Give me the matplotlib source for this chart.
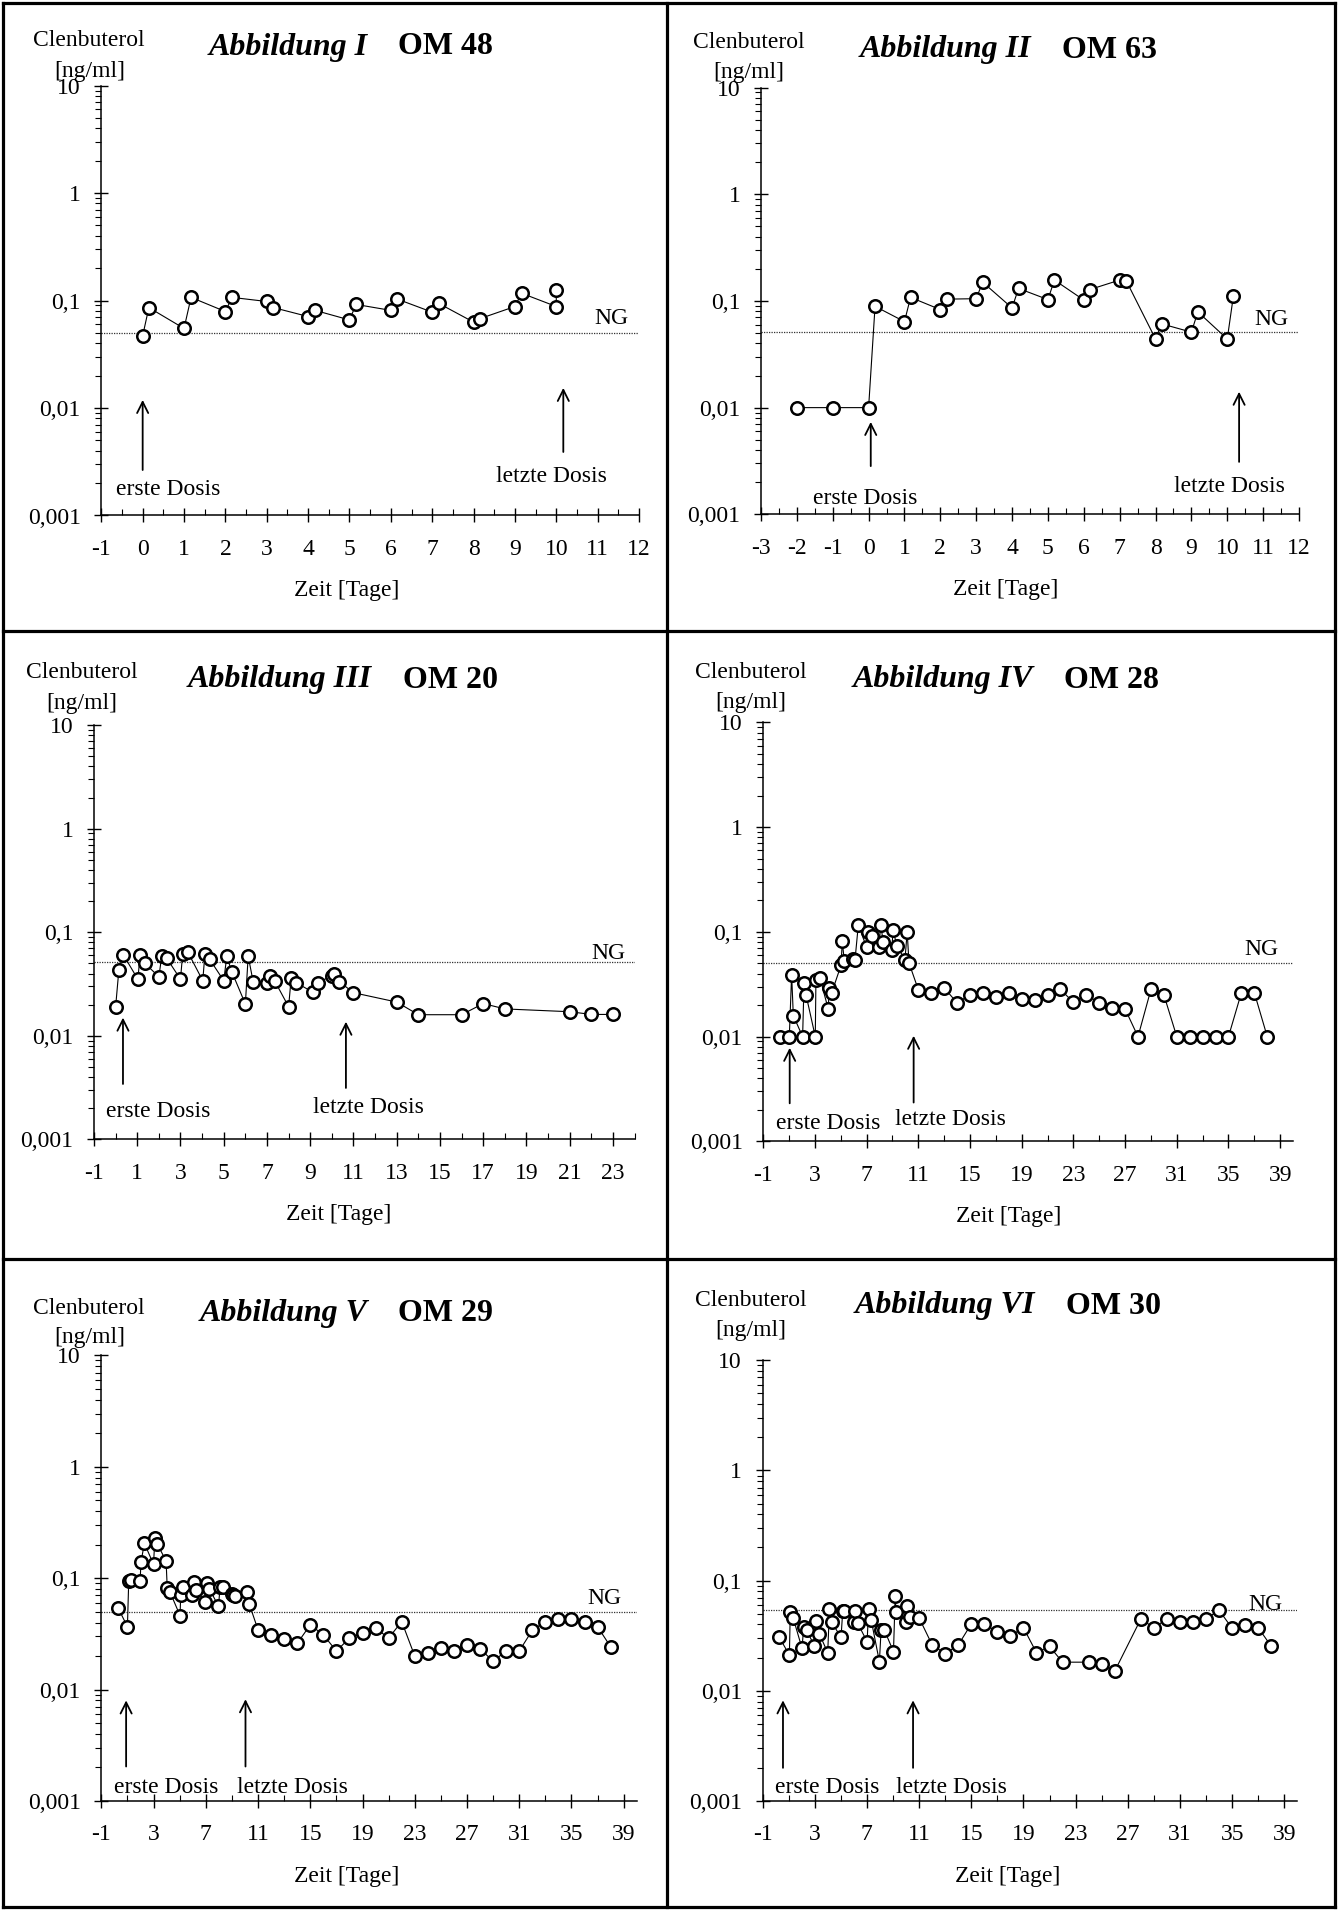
import numpy as np
import matplotlib
matplotlib.use('Agg')
import matplotlib.pyplot as plt
from matplotlib.ticker import FixedLocator, FuncFormatter, LogLocator, NullFormatter
from matplotlib.lines import Line2D
from matplotlib.transforms import blended_transform_factory

plt.rcParams['font.family'] = ['Liberation Serif', 'DejaVu Serif']
plt.rcParams['axes.unicode_minus'] = False

# ---------------- data ----------------
titles = ['Abbildung I', 'Abbildung II', 'Abbildung III', 'Abbildung IV', 'Abbildung V', 'Abbildung VI']
om_labels = ['OM 48', 'OM 63', 'OM 20', 'OM 28', 'OM 29', 'OM 30']
ng_values = [0.05, 0.051, 0.052, 0.051, 0.05, 0.054]
ytick_vals = [0.001, 0.01, 0.1, 1, 10]
ytick_labels = ['0,001', '0,01', '0,1', '1', '10']

x1 = [0, 0.15, 1.0, 1.17, 2.0, 2.16, 3.0, 3.16, 4.0, 4.17, 5.0, 5.16, 6.0, 6.16, 7.0, 7.16,
      8.0, 8.16, 9.0, 9.16, 10.0, 10.0]
y1 = [0.047, 0.086, 0.055, 0.107, 0.079, 0.107, 0.098, 0.086, 0.071, 0.081, 0.066, 0.092,
      0.081, 0.103, 0.078, 0.094, 0.063, 0.068, 0.088, 0.117, 0.088, 0.125]

x2 = [-2, -1, 0, 0.18, 1.0, 1.17, 2.0, 2.18, 3.0, 3.18, 4.0, 4.18, 5.0, 5.18, 6.0, 6.17,
      7.0, 7.19, 8.0, 8.17, 9.0, 9.18, 10.0, 10.17]
y2 = [0.01, 0.01, 0.01, 0.089, 0.064, 0.108, 0.083, 0.104, 0.105, 0.150, 0.086, 0.131,
      0.103, 0.157, 0.102, 0.128, 0.157, 0.153, 0.044, 0.061, 0.051, 0.079, 0.044, 0.111]

x3 = [0, 0.15, 0.36, 1.03, 1.13, 1.36, 2.0, 2.13, 2.36, 3.0, 3.1, 3.33, 4.03, 4.13, 4.35,
      5.0, 5.14, 5.37, 6.0, 6.13, 6.36, 7.0, 7.14, 7.35, 8.0, 8.12, 8.34, 9.12, 9.34,
      10.0, 10.12, 10.35, 11.0, 13, 14, 16, 17, 18, 21, 22, 23]
y3 = [0.0191, 0.0433, 0.0604, 0.0352, 0.0604, 0.050, 0.0372, 0.0584, 0.0563, 0.0352, 0.062,
      0.065, 0.0341, 0.062, 0.0548, 0.0341, 0.0584, 0.0417, 0.0203, 0.059, 0.0333, 0.0327,
      0.0379, 0.0341, 0.0191, 0.0365, 0.0327, 0.0264, 0.0327, 0.0379, 0.0393, 0.0333,
      0.0261, 0.0212, 0.016, 0.016, 0.0205, 0.0182, 0.0171, 0.0161, 0.0161]

x4 = [0.3, 1.02, 1.20, 1.33, 2.05, 2.16, 2.31, 3.03, 3.08, 3.39, 4.04, 4.09, 4.30, 5.02,
      5.12, 5.27, 5.97, 6.1, 6.36, 7.0, 7.13, 7.39, 7.96, 8.09, 8.29, 8.94, 9.06, 9.32,
      9.97, 10.14, 10.28, 11, 12, 13, 14, 15, 16, 17, 18, 19, 20, 21, 22, 23, 24, 25, 26,
      27, 28, 29, 30, 31, 32, 33, 34, 35, 36, 37, 38]
y4 = [0.01, 0.01, 0.0392, 0.0159, 0.01, 0.0326, 0.0252, 0.01, 0.035, 0.0364, 0.0182, 0.0292,
      0.0262, 0.048, 0.0815, 0.0532, 0.0556, 0.0535, 0.1166, 0.0714, 0.1, 0.0923, 0.0714,
      0.1175, 0.080, 0.0668, 0.105, 0.074, 0.0545, 0.1, 0.0506,
      0.0281, 0.026, 0.0293, 0.021, 0.0251, 0.0263, 0.024, 0.0263, 0.023, 0.0224, 0.0251,
      0.0282, 0.0213, 0.0251, 0.021, 0.0189, 0.0184, 0.01, 0.0282, 0.0251, 0.01, 0.01,
      0.01, 0.01, 0.01, 0.0263, 0.0263, 0.01]

x5 = [0.3, 1.0, 1.1, 1.25, 1.97, 2.04, 2.30, 3.0, 3.1, 3.29, 3.96, 4.05, 4.27, 5.03, 5.08,
      5.24, 5.93, 6.11, 6.26, 6.95, 7.13, 7.28, 7.97, 8.1, 8.28, 9.0, 9.1, 9.25, 10.15, 10.33,
      11, 12, 13, 14, 15, 16, 17, 18, 19, 20, 21, 22, 23, 24, 25, 26, 27, 28, 29, 30, 31,
      32, 33, 34, 35, 36, 37, 38]
y5 = [0.0537, 0.0367, 0.0944, 0.0963, 0.0944, 0.1405, 0.2057, 0.133, 0.228, 0.2028, 0.1426,
      0.081, 0.0747, 0.0461, 0.0706, 0.0828, 0.0706, 0.093, 0.0783, 0.0615, 0.090, 0.080,
      0.0562, 0.0839, 0.0839, 0.0722, 0.070, 0.0692, 0.0746, 0.0586,
      0.0344, 0.0308, 0.0282, 0.026, 0.0381, 0.031, 0.0222, 0.029, 0.0321, 0.0357, 0.029,
      0.0408, 0.02, 0.0213, 0.0238, 0.0222, 0.0253, 0.0232, 0.018, 0.0222, 0.0222, 0.0341,
      0.0408, 0.0426, 0.043, 0.0403, 0.0366, 0.0242]

x6 = [0.29, 1.06, 1.13, 1.36, 2.03, 2.16, 2.38, 2.98, 3.1, 3.36, 4.0, 4.13, 4.3, 5.02, 5.15,
      5.28, 5.99, 6.12, 6.3, 7.02, 7.13, 7.33, 7.96, 8.09, 8.35, 9.04, 9.17, 9.24, 10.01,
      10.09, 10.27, 11, 12, 13, 14, 15, 16, 17, 18, 19, 20, 21, 22, 24, 25, 26, 28, 29, 30,
      31, 32, 33, 34, 35, 36, 37, 38]
y6 = [0.0306, 0.0211, 0.0523, 0.0455, 0.0243, 0.0383, 0.0356, 0.0255, 0.0434, 0.0328, 0.0222,
      0.055, 0.0419, 0.0306, 0.0531, 0.053, 0.0419, 0.053, 0.041, 0.0279, 0.055, 0.044,
      0.0184, 0.0356, 0.0354, 0.0227, 0.0726, 0.0516, 0.0425, 0.0589, 0.0465,
      0.046, 0.0262, 0.0217, 0.026, 0.0404, 0.0404, 0.0343, 0.0315, 0.0374, 0.0222, 0.0253,
      0.0182, 0.0182, 0.0175, 0.0151, 0.0449, 0.0374, 0.0449, 0.0423, 0.0423, 0.0452,
      0.0538, 0.0369, 0.0399, 0.0374, 0.0253]

series_x = [x1, x2, x3, x4, x5, x6]
series_y = [y1, y2, y3, y4, y5, y6]

# ---------------- layout (pixels from top-left) ----------------
W, H = 1340, 1910
boxes = [(101.3, 639.0, 85.6, 515.5), (761.0, 1299.0, 87.6, 514.3),
         (94.0, 634.6, 725.2, 1139.4), (763.2, 1293.1, 722.4, 1141.4),
         (101.3, 636.8, 1355.4, 1801.0), (762.5, 1297.4, 1360.3, 1801.0)]
xlims = [(-1, 12), (-3, 12), (-1, 24), (-1, 40), (-1, 40), (-1, 40)]
major_x = [np.arange(-1, 13, 1), np.arange(-3, 13, 1), np.arange(-1, 24, 2),
           np.arange(-1, 40, 4), np.arange(-1, 40, 4), np.arange(-1, 40, 4)]
minor_x = [np.arange(-0.5, 12, 1), np.arange(-2.5, 12, 1), np.arange(0, 25, 2),
           np.arange(1, 40, 4), np.arange(1, 40, 4), np.arange(1, 40, 4)]
clen_y = [40, 42.2, 672, 672.2, 1308, 1301]
unit_y = [72, 72.3, 704, 702.3, 1337, 1330]
title_y = [47, 50, 680, 680, 1313, 1306]
title_end = [266, 270, 278, 270, 266, 273]
ng_dy = [14, 13, 8, 13, 13, 6]
ng_rgap = [11, 11, 9, 15, 15, 15]
# arrows: (x, tail, head, text_x, text_y)
erste = [(0, 0.00265, 0.0119, 0.62, 0.00176), (0.06, 0.00283, 0.00735, -0.09, 0.00142),
         (0.34, 0.00343, 0.015, 1.96, 0.00186), (1.05, 0.00231, 0.00783, 4.02, 0.00149),
         (0.9, 0.00204, 0.008, 3.95, 0.00133), (0.57, 0.002, 0.0082, 3.98, 0.00133)]
letzte = [(10.17, 0.0039, 0.0154, 9.88, 0.0023), (10.33, 0.0031, 0.0141, 10.06, 0.00184),
          (10.65, 0.00314, 0.0137, 11.67, 0.00204), (10.64, 0.00235, 0.0102, 13.51, 0.00163),
          (10.04, 0.00204, 0.0082, 13.61, 0.00133), (10.54, 0.002, 0.0082, 13.49, 0.00133)]

FS = 17
TFS = 23

fig = plt.figure(figsize=(W / 100, H / 100), dpi=100)


def fx(px):
    return px / W


def fy(py):
    return 1 - py / H


ylab = dict(zip(ytick_vals, ytick_labels))

for i in range(6):
    L, R, T, B = boxes[i]
    ax = fig.add_axes([fx(L), fy(B), fx(R) - fx(L), fy(T) - fy(B)])
    ax.set_yscale('log')
    ax.set_ylim(0.001, 10)
    ax.set_xlim(*xlims[i])
    ax.patch.set_alpha(0)
    for s in ['top', 'right']:
        ax.spines[s].set_visible(False)
    for s in ['left', 'bottom']:
        ax.spines[s].set_linewidth(1.1)

    ax.yaxis.set_major_locator(FixedLocator(ytick_vals))
    ax.yaxis.set_major_formatter(FuncFormatter(lambda v, p: ylab.get(round(v, 6), '')))
    ax.yaxis.set_minor_locator(LogLocator(base=10, subs=np.arange(2, 10)))
    ax.yaxis.set_minor_formatter(NullFormatter())
    ax.xaxis.set_major_locator(FixedLocator(major_x[i]))
    ax.xaxis.set_minor_locator(FixedLocator(minor_x[i]))
    ax.xaxis.set_major_formatter(FuncFormatter(lambda v, p: '%d' % int(round(v))))

    ax.tick_params(axis='y', which='major', direction='inout', length=10.5, width=1.0,
                   pad=9.5, labelsize=FS)
    ax.tick_params(axis='y', which='minor', direction='out', length=4, width=0.8)
    ax.tick_params(axis='x', which='major', direction='inout', length=9.5, width=1.0,
                   pad=12, labelsize=FS)
    ax.tick_params(axis='x', which='minor', direction='in', length=4, width=0.8)

    # NG line and label
    ax.axhline(ng_values[i], color='#333333', lw=0.9, ls=(0, (1, 1)), zorder=1)
    decade_px = (B - T) / 4.0
    trans = blended_transform_factory(ax.transAxes, ax.transData)
    ax.text(1 - ng_rgap[i] / (R - L), ng_values[i] * 10 ** (ng_dy[i] / decade_px), 'NG',
            transform=trans, ha='right', va='center', fontsize=FS)

    # data
    ax.plot(series_x[i], series_y[i], color='black', lw=0.8, marker='o', ms=9.0,
            mfc='white', mec='black', mew=1.8, zorder=3, clip_on=False)

    # arrows + labels
    for (xa, tail, head, tx, ty), lab in [(erste[i], 'erste Dosis'), (letzte[i], 'letzte Dosis')]:
        ax.annotate('', xy=(xa, head), xytext=(xa, tail),
                    arrowprops=dict(arrowstyle='->', lw=1.3, color='black',
                                    mutation_scale=20, shrinkA=0, shrinkB=0))
        ax.text(tx, ty, lab, ha='center', va='center', fontsize=FS)

    # header texts
    fig.text(fx(L - 12), fy(clen_y[i]), 'Clenbuterol', ha='center', va='center', fontsize=FS)
    fig.text(fx(L - 12), fy(unit_y[i]), '[ng/ml]', ha='center', va='center', fontsize=FS)
    fig.text(fx(L + title_end[i]), fy(title_y[i]), titles[i], ha='right', va='center',
             fontsize=TFS, fontweight='bold', fontstyle='italic')
    fig.text(fx(L + title_end[i] + 31), fy(title_y[i]), om_labels[i], ha='left', va='center',
             fontsize=TFS, fontweight='bold')
    fig.text(fx(L + 245), fy(B + 75), 'Zeit [Tage]', ha='center', va='center', fontsize=FS)

# panel frame lines
bw = 2.3
for (xa, ya, xb, yb) in [(3, 3, 1335, 3), (3, 1907, 1335, 1907), (3, 3, 3, 1907),
                         (1335, 3, 1335, 1907), (667, 3, 667, 1907),
                         (3, 631, 1335, 631), (3, 1259, 1335, 1259)]:
    fig.add_artist(Line2D([fx(xa), fx(xb)], [fy(ya), fy(yb)], color='black', lw=bw,
                          transform=fig.transFigure, solid_capstyle='projecting'))

fig.savefig('out.png', dpi=100)
